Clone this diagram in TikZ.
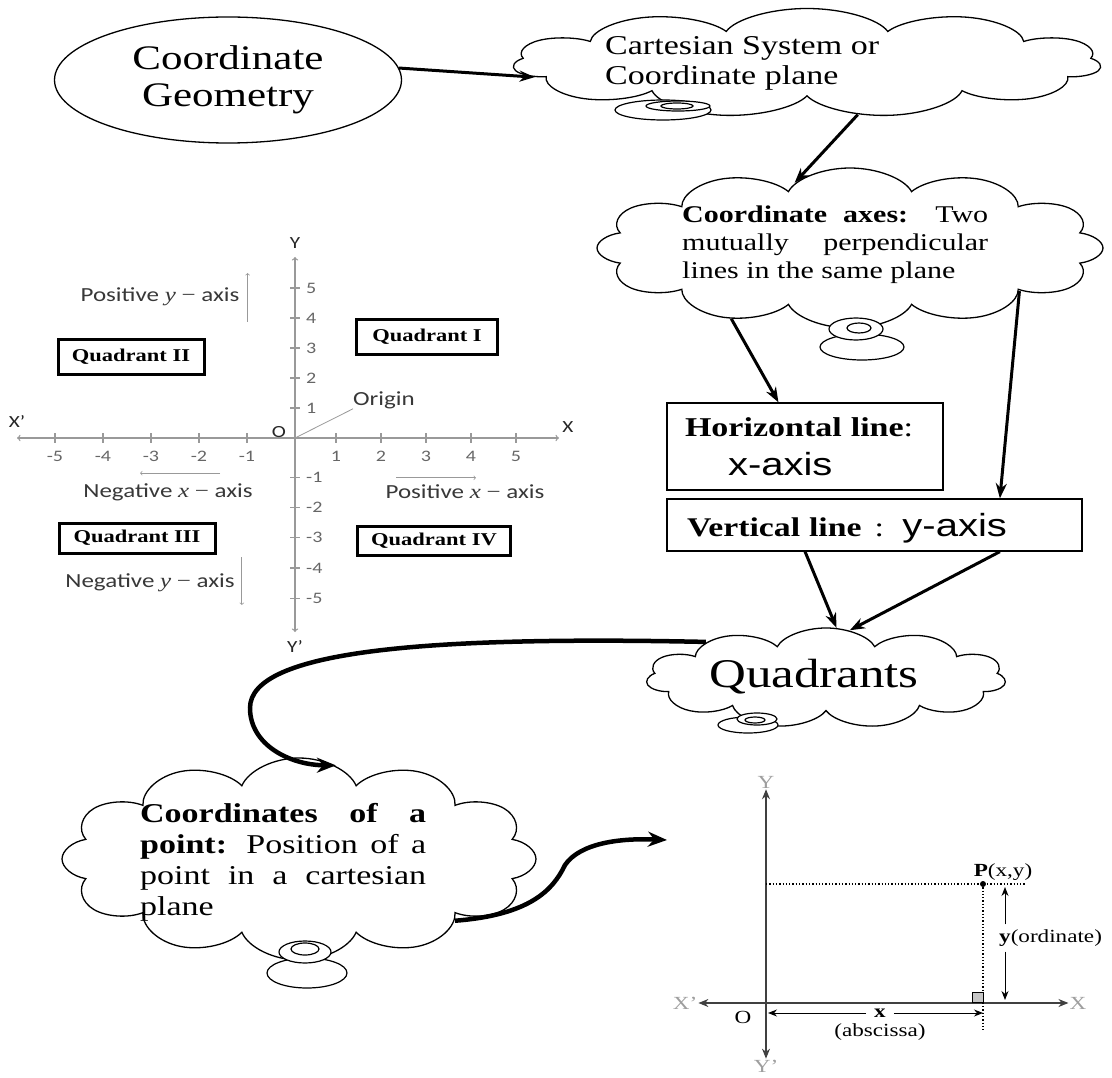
\documentclass[tikz,border=0pt]{standalone}
\usepackage{fontspec}
\usepackage{tikz}
\usetikzlibrary{
    arrows,
    arrows.meta,
    positioning,
    shapes,
    shapes.geometric,
    shapes.symbols
}
\setmainfont[FakeStretch=1.25]{Liberation Serif}
\newfontfamily\arialfont[FakeStretch=1.25]{Liberation Sans}
\newfontfamily\calfont[FakeStretch=1.25]{Carlito}
\definecolor{axisgray}{gray}{0.6}
\definecolor{inkgray}{gray}{0.22}
\definecolor{ghostgray}{gray}{0.62}

\begin{document}
\begin{tikzpicture}[x=1pt, y=-1pt,
    flow/.style={-{Stealth[length=15pt, width=11pt]}, line width=3pt},
    bigflow/.style={-{Stealth[length=19pt, width=15pt]}, line width=4.5pt},
    puff/.style={draw, cloud, cloud puffs=#1, cloud ignores aspect, line width=1.3pt, inner sep=0pt},
    ring/.style={draw, fill=white, line width=1.2pt},
    bubbletext/.style={anchor=north west, inner sep=0pt, align=left},
    linebox/.style={draw, line width=1.3pt, align=left},
    quadbox/.style={draw, line width=3pt, inner sep=0pt, font=\fontsize{18}{20}\selectfont\bfseries},
    faint/.style={draw=axisgray, line width=1.3pt},
    axtext/.style={text=inkgray, inner sep=0pt, font=\calfont\fontsize{20}{24}\selectfont},
    ticktext/.style={text=black!60, inner sep=0pt, font=\calfont\fontsize{16}{18}\selectfont},
    axname/.style={text=black!85, inner sep=0pt, font=\calfont\fontsize{17}{20}\selectfont},
    rlabel/.style={inner sep=1pt, font=\fontsize{18.5}{22}\selectfont},
    dimarrow/.style={-{Stealth[length=9pt, width=7pt]}, line width=1pt},
    planeaxis/.style={{Stealth[length=10pt, width=8pt]}-{Stealth[length=10pt, width=8pt]}, line width=1.1pt, draw=black!75},
    dotline/.style={dotted, line width=1.3pt}
]
\useasboundingbox (0,0) rectangle (1112,1078);

% top row
\node[draw, ellipse, line width=1.3pt, minimum width=347pt, minimum height=126pt, inner sep=0pt, align=center, font=\fontsize{34.4}{37}\selectfont] (cgeo) at (228,80) {Coordinate\\Geometry};

\node[puff=11, minimum width=218pt, minimum height=109pt, xscale=2.7] (cartcloud) at (807,63) {};
\draw[ring] (663,110) ellipse [x radius=48pt, y radius=10pt];
\draw[ring] (678,106) ellipse [x radius=32pt, y radius=5pt];
\draw[ring] (677,106) ellipse [x radius=16pt, y radius=3pt];
\node[bubbletext, font=\fontsize{27.2}{30}\selectfont] (cartlabel) at (605,36) {Cartesian System or\\Coordinate plane};

% axes cloud and the two lines
\node[puff=12, minimum width=253pt, minimum height=160pt, xscale=2] (axescloud) at (850,248) {};
\draw[ring] (862,347) ellipse [x radius=42pt, y radius=13pt];
\draw[ring] (856,329) ellipse [x radius=27pt, y radius=11pt];
\draw[ring] (859,328) ellipse [x radius=12pt, y radius=5pt];
\node[bubbletext, font=\fontsize{24}{28}\selectfont] (axeslabel) at (682,206) {\makebox[306pt][s]{\textbf{Coordinate axes:} Two}\\\makebox[306pt][s]{mutually perpendicular}\\lines in the same plane};

\node[linebox, minimum width=276pt, minimum height=87pt, text width=240pt, inner xsep=18pt, font=\fontsize{27.2}{39}\selectfont] (hbox) at (805,446.5) {\textbf{Horizontal line}:\\\hspace*{43pt}{\arialfont\fontsize{32}{36}\selectfont x-axis}};
\node[linebox, minimum width=415pt, minimum height=52pt, text width=375pt, inner xsep=20pt, text depth=0pt, font=\fontsize{27}{32}\selectfont] (vbox) at (874.5,525) {\textbf{Vertical line}\hspace{4pt} :\hspace{5pt} {\arialfont\fontsize{32}{36}\selectfont y-axis}};

% quadrants
\node[puff=11, minimum width=180pt, minimum height=100pt, xscale=2] (quadcloud) at (826,678) {};
\draw[ring] (748,725) ellipse [x radius=30pt, y radius=8pt];
\draw[ring] (757,719) ellipse [x radius=20pt, y radius=6pt];
\draw[ring] (755,720) ellipse [x radius=10pt, y radius=3pt];
\node[anchor=base, inner sep=0pt, font=\fontsize{40.8}{44}\selectfont] (quadlabel) at (814,687) {Quadrants};

% coordinates of a point
\node[puff=12, minimum width=300pt, minimum height=202pt, xscale=1.58] (ptcloud) at (299,859) {};
\draw[ring] (307,973) ellipse [x radius=40pt, y radius=15pt];
\draw[ring] (305,952) ellipse [x radius=26pt, y radius=11pt];
\draw[ring] (305,949) ellipse [x radius=14pt, y radius=6pt];
\node[bubbletext, font=\fontsize{27.2}{31}\selectfont] (ptlabel) at (140,803) {\makebox[286pt][s]{\textbf{Coordinates of a}}\\\makebox[286pt][s]{\textbf{point:} Position of a}\\\makebox[286pt][s]{point in a cartesian}\\plane};

% connectors
\draw[flow] (cgeo.4) -- (cartcloud.188);
\draw[flow] (cartcloud.-70) -- (axescloud.113);
\draw[flow] (axescloud.230) -- (hbox.121);
\draw[flow] (axescloud.-27) -- (vbox.12);
\draw[flow] (vbox.201) -- (quadcloud.84);
\draw[flow] (vbox.-12) -- (quadcloud.76);
\draw[bigflow] (quadcloud.149) .. controls (430,636) and (250,650) .. (250,708) .. controls (250,745) and (290,765) .. (ptcloud.76);
\coordinate (planetip) at (667,840);
\draw[bigflow] (ptcloud.-32) .. controls (530,915) and (553,890) .. (565,865) .. controls (580,843) and (620,838) .. (planetip);

% left: numbered axes
\coordinate (orig) at (295,438);
\coordinate (xneg) at (17,438);
\coordinate (xpos) at (559,438);
\coordinate (ypos) at (295,257);
\coordinate (yneg) at (295,632);
\draw[faint, <->, >=to] (xneg) -- (xpos);
\draw[faint, <->, >=to] (ypos) -- (yneg);
\node[axname] (xnegname) at (17,422) {X’};
\node[axname] (xposname) at (568,427) {X};
\node[axname] (yposname) at (295,243) {Y};
\node[axname] (ynegname) at (295,647) {Y’};
\node[axname] (oname) at (279,432) {O};

\foreach \i in {1,...,5} {
    \draw[faint] (291+45*\i,433) -- (291+45*\i,443);
    \node[ticktext, anchor=north] (xtp\i) at (291+45*\i,451) {\i};
    \draw[faint] (295-48*\i,433) -- (295-48*\i,443);
    \node[ticktext, anchor=north] (xtn\i) at (295-48*\i,451) {-\i};
    \draw[faint] (290,438-30*\i) -- (300,438-30*\i);
    \node[ticktext, anchor=west] (ytp\i) at (306,438-30*\i) {\i};
    \draw[faint] (290,447+30.25*\i) -- (300,447+30.25*\i);
    \node[ticktext, anchor=west] (ytn\i) at (306,447+30.25*\i) {-\i};
}

\node[axtext] (origname) at (384,400) {Origin};
\draw[faint, line width=0.8pt] (origname.south west) -- (orig);

\node[axtext] (posy) at (160,297) {Positive {\rmfamily\itshape y} {\rmfamily −} axis};
\node[axtext] (negx) at (168,492) {Negative {\rmfamily\itshape x} {\rmfamily −} axis};
\node[axtext] (posx) at (465,492) {Positive {\rmfamily\itshape x} {\rmfamily −} axis};
\node[axtext] (negy) at (150,583) {Negative {\rmfamily\itshape y} {\rmfamily −} axis};
\draw[faint, line width=0.7pt, ->, >=to] (posy.east) ++(8,25) -- ++(0,-49);
\draw[faint, line width=0.7pt, ->, >=to] (negx.north) ++(52,-10) -- ++(-80,0);
\draw[faint, line width=0.7pt, ->, >=to] (posx.north) ++(-69,-7) -- ++(80,0);
\draw[faint, line width=0.7pt, ->, >=to] (negy.east) ++(7,-26) -- ++(0,48);

\node[quadbox, minimum width=141pt, minimum height=35pt] (quad1) at (427,337) {Quadrant I};
\node[quadbox, minimum width=146pt, minimum height=35pt] (quad2) at (131,357) {Quadrant II};
\node[quadbox, minimum width=156pt, minimum height=30pt] (quad3) at (137,538) {Quadrant III};
\node[quadbox, minimum width=153pt, minimum height=29pt] (quad4) at (434,541) {Quadrant IV};

% right: point P on the plane
\node[rlabel, text=ghostgray] (ytop2) at (766,782) {Y};
\node[rlabel, text=ghostgray] (ybot2) at (766,1066) {Y’};
\node[rlabel, text=ghostgray] (xleft2) at (685,1003) {X’};
\node[rlabel, text=ghostgray] (xright2) at (1078,1003) {X};
\draw[planeaxis] (xleft2) -- (xright2);
\draw[planeaxis] (ytop2) -- (ybot2);
\node[rlabel] (o2) at (743,1017) {O};

\node[circle, fill, inner sep=0pt, minimum size=6pt] (pt) at (983,884) {};
\node[rlabel, anchor=base] (ptname) at (1003,876) {\textbf{P}(x,y)};
\coordinate (yfoot) at (766,884);
\coordinate (hdotend) at (1025,884);
\coordinate (vdotend) at (983,1030);
\draw[dotline] (yfoot) -- (hdotend);
\draw[dotline] (pt) -- (vdotend);
\draw[fill=gray!45, line width=0.8pt] (972,992) rectangle (983,1002);

\node[rlabel, anchor=west, inner xsep=0pt, inner ysep=5pt] (ordname) at (999,938) {\textbf{y}(ordinate)};
\coordinate (ordtop) at (1005,887);
\coordinate (ordbot) at (1005,1000);
\draw[dimarrow] ([xshift=6pt]ordname.north west) -- (ordtop);
\draw[dimarrow] ([xshift=6pt]ordname.south west) -- (ordbot);

\node[rlabel, inner xsep=8pt] (absx) at (880,1013) {\textbf{x}};
\node[rlabel, below=4pt of absx] (absword) {(abscissa)};
\coordinate (absleft) at (768,1013);
\coordinate (absright) at (983,1013);
\draw[dimarrow] (absx) -- (absleft);
\draw[dimarrow] (absx) -- (absright);
\end{tikzpicture}
\end{document}
